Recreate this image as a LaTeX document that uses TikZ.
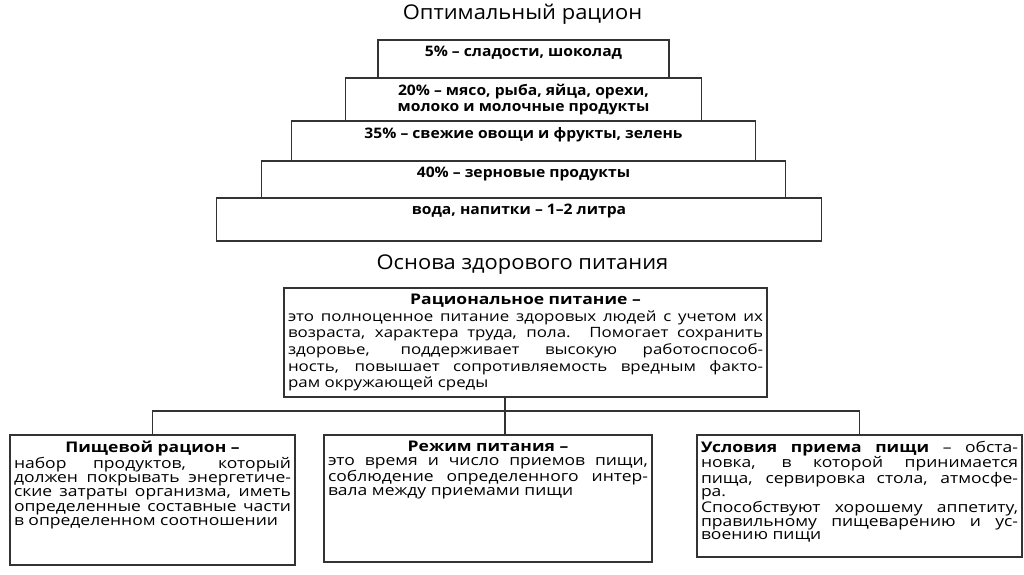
\documentclass[tikz,border=0pt]{standalone}
\usepackage{fontspec}
\setmainfont{Open Sans}[FakeStretch=1.08]
\newfontfamily\bodyfont{Open Sans}[FakeStretch=1.19]
\usetikzlibrary{positioning}
\tikzset{
  tier/.style={draw=black!80,rectangle,line width=1.1pt,outer sep=0pt,inner sep=0pt},
  tierlbl/.style={font=\bfseries\fontsize{14.5}{16}\selectfont,align=center,inner sep=0pt,anchor=north,yshift=-6pt},
  head/.style={font=\fontsize{20.3}{23}\selectfont},
  card/.style={draw=black!80,rectangle,line width=1.1pt,outer sep=0pt,inner xsep=4pt,inner ysep=6pt,anchor=north west},
  conn/.style={draw=black!80,line width=1.1pt}
}
\newcommand{\cardfont}{\bodyfont\fontsize{14.7}{14.3}\selectfont\parindent=0pt\hyphenpenalty=10000\tolerance=9999\emergencystretch=20pt}

\begin{document}
\begin{tikzpicture}[x=1pt,y=-1pt]
  \useasboundingbox (0,0) rectangle (1024,574);

  % pyramid
  \node[head] (ttl) at (522.5,14) {Оптимальный рацион};
  \node[tier,minimum width=291pt,minimum height=38pt,
    label={[tierlbl]north:{5\% – сладости, шоколад}}] (t1) at (523.5,59) {};
  \node[tier,minimum width=356pt,minimum height=43pt,below=0pt of t1,
    label={[tierlbl]north:{20\% – мясо, рыба, яйца, орехи,\\молоко и молочные продукты}}] (t2) {};
  \node[tier,minimum width=464pt,minimum height=40pt,below=0pt of t2,
    label={[tierlbl]north:{35\% – свежие овощи и фрукты, зелень}}] (t3) {};
  \node[tier,minimum width=524pt,minimum height=37pt,below=0pt of t3,
    label={[tierlbl]north:{40\% – зерновые продукты}}] (t4) {};
  \node[tier,minimum width=605pt,minimum height=43pt,below=0pt of t4,xshift=-4.5pt,
    label={[tierlbl]north:{вода, напитки – 1–2 литра}}] (t5) {};

  % basis
  \node[head] (base) at (522.5,265) {Основа здорового питания};
  \node[card,anchor=north,minimum width=483pt,minimum height=109pt] (core) at (525.5,288)
    {\parbox[t][97pt][c]{475pt}{\bodyfont\fontsize{14.2}{16.7}\selectfont\parindent=0pt\hyphenpenalty=10000\tolerance=9999
      {\centering\bfseries\fontsize{14.7}{16.7}\selectfont Рациональное питание –\par}
      это полноценное питание здоровых людей с учетом их\linebreak
      возраста, характера труда, пола. Помогает сохранить\linebreak
      здоровье, поддерживает высокую работоспособ-\linebreak
      ность, повышает сопротивляемость вредным факто-\linebreak
      рам окружающей среды}};

  \node[card,minimum width=285pt,minimum height=130pt] (diet) at (10,435)
    {\parbox[t][118pt][t]{277pt}{\cardfont
      {\centering\bfseries Пищевой рацион –\par}
      набор продуктов, который\linebreak
      должен покрывать энергетиче-\linebreak
      ские затраты организма, иметь\linebreak
      определенные составные части\linebreak
      в определенном соотношении}};
  \node[card,minimum width=328pt,minimum height=127pt] (mode) at (324,435)
    {\parbox[t][115pt][t]{320pt}{\cardfont
      {\centering\bfseries Режим питания –\par}
      это время и число приемов пищи,\linebreak
      соблюдение определенного интер-\linebreak
      вала между приемами пищи}};
  \node[card,minimum width=325pt,minimum height=122pt] (cond) at (697,435)
    {\parbox[t][110pt][t]{317pt}{\cardfont\fontsize{14.7}{13.3}\selectfont
      \textbf{Условия приема пищи} – обста-\linebreak
      новка, в которой принимается\linebreak
      пища, сервировка стола, атмосфе-\linebreak
      ра.\par
      Способствуют хорошему аппетиту,\linebreak
      правильному пищеварению и ус-\linebreak
      воению пищи}};

  \coordinate (hub) at (505,411);
  \draw[conn] (hub |- core.south) -- (hub |- mode.north);
  \draw[conn] (diet.north) |- (hub) -| (cond.north);
\end{tikzpicture}
\end{document}
